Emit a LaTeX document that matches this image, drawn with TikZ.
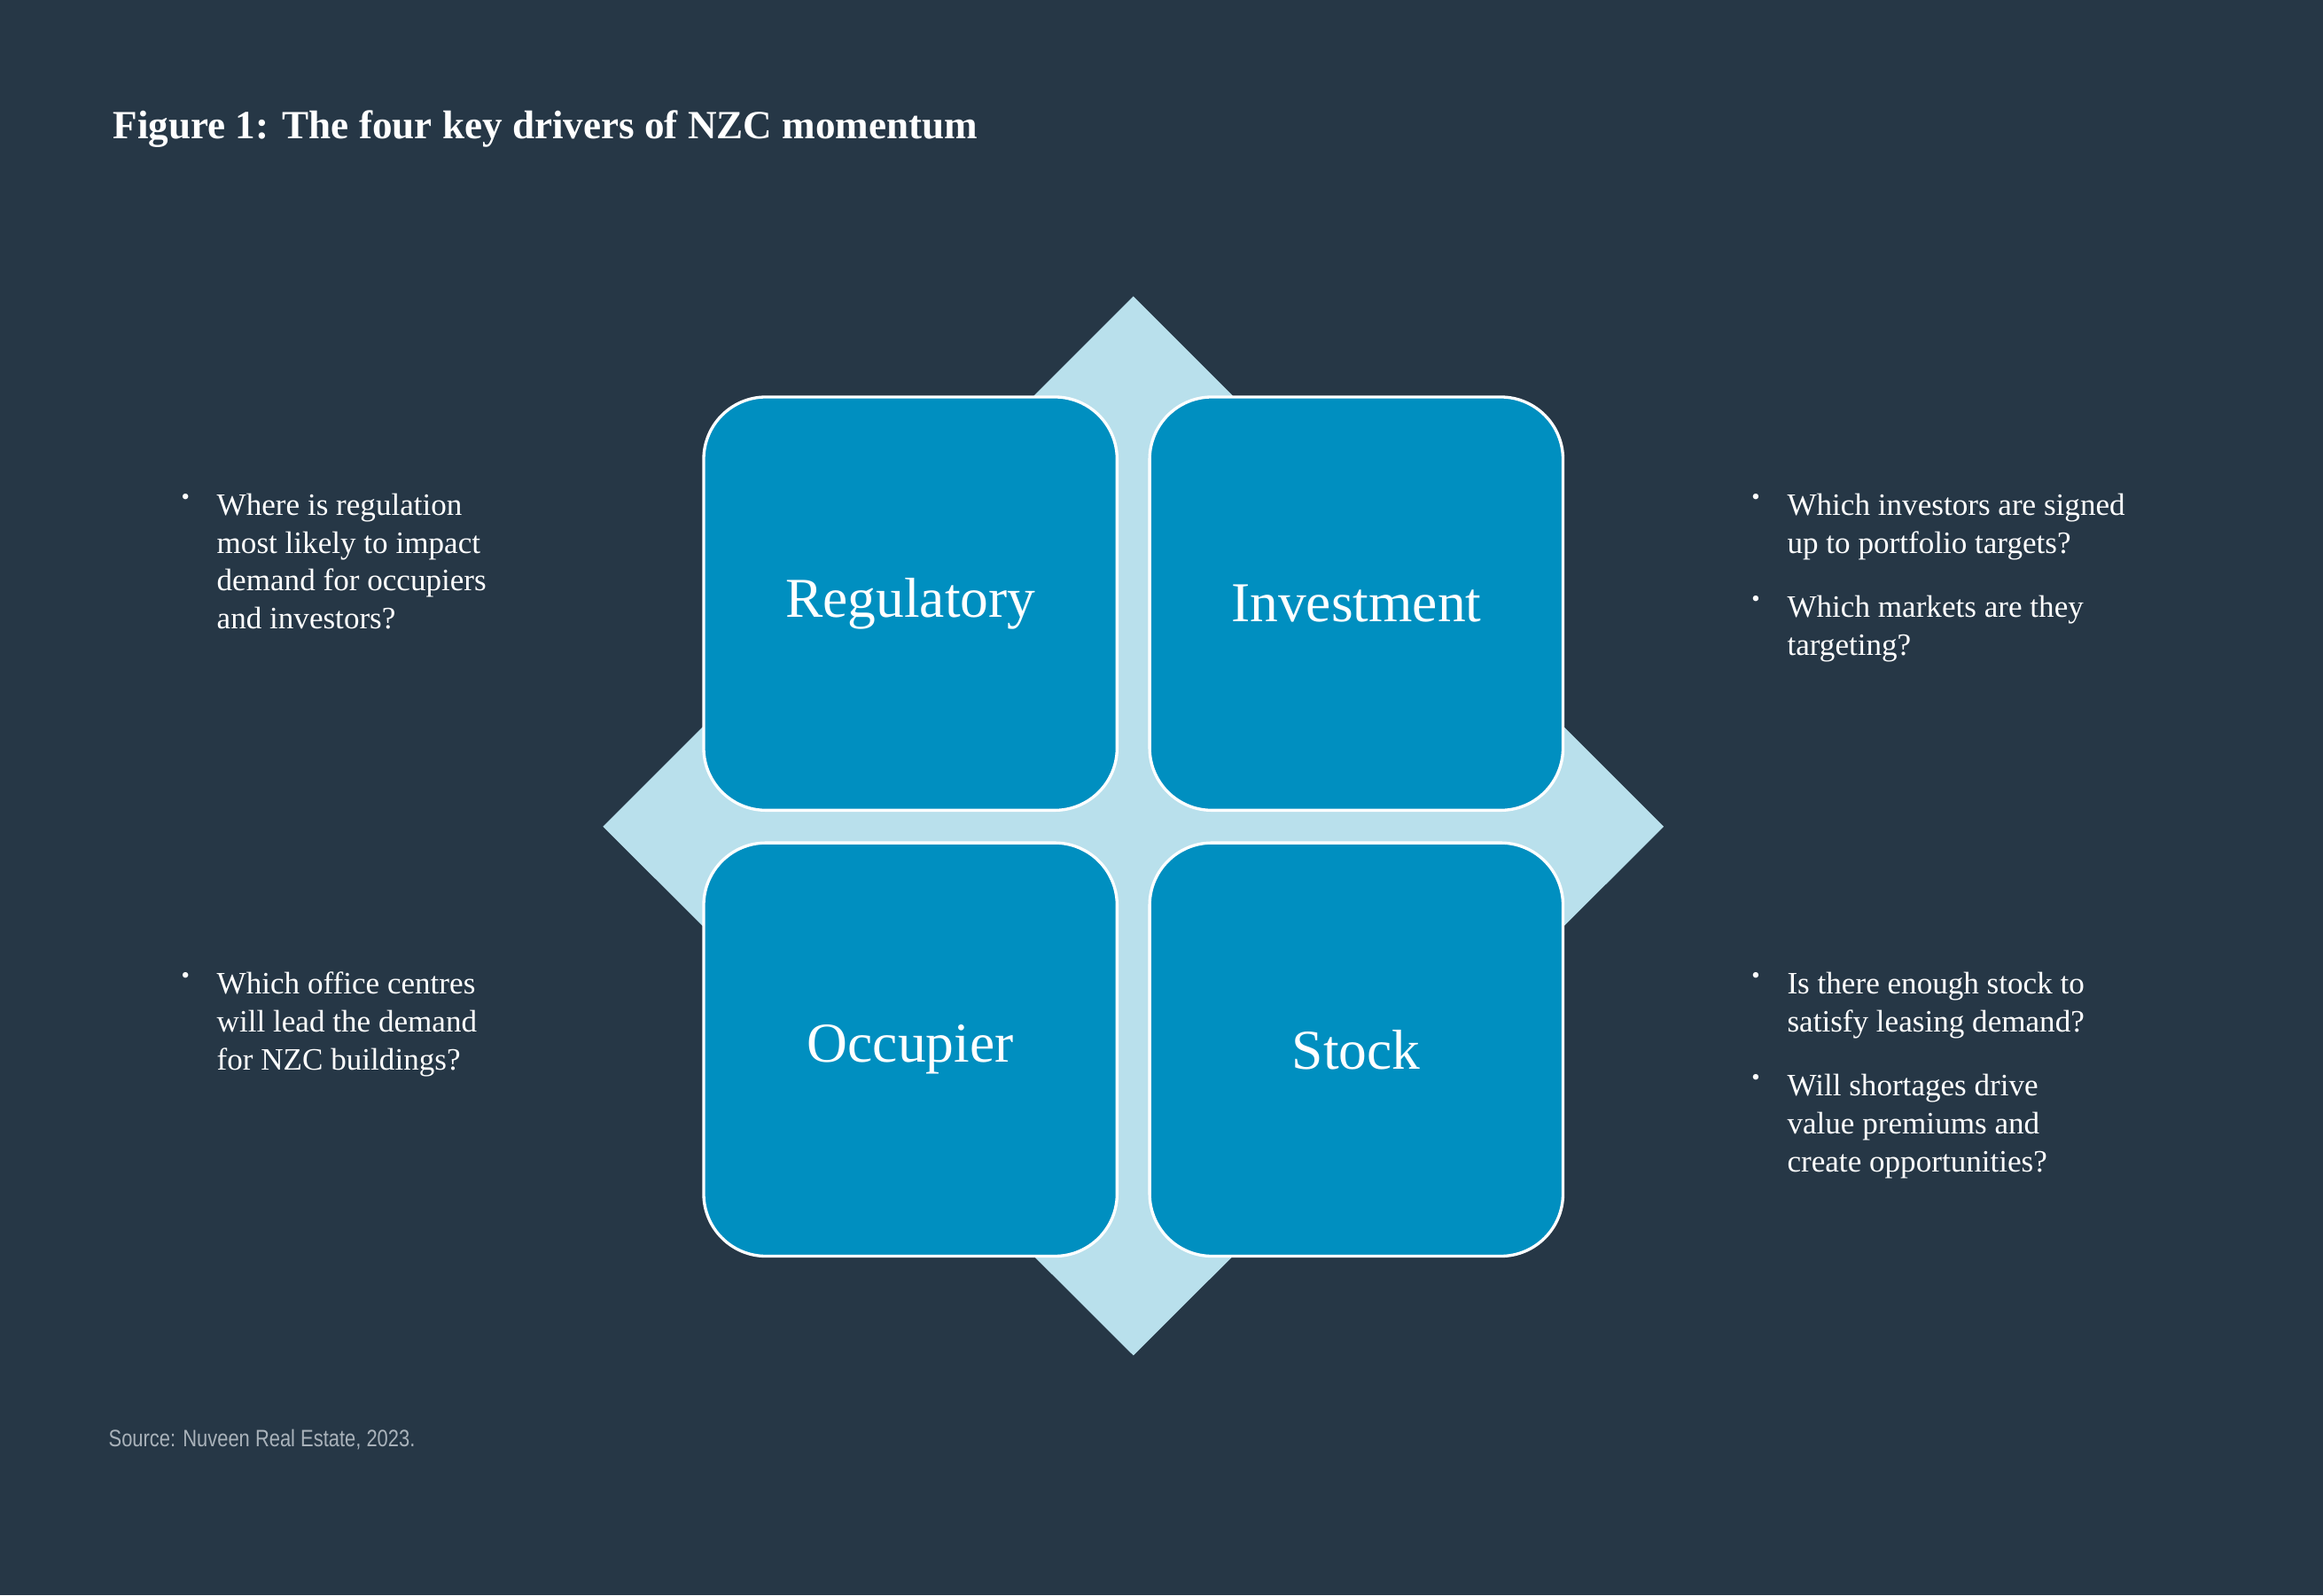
\documentclass[tikz,border=0pt]{standalone}
\usepackage{fontspec}
\setmainfont{Liberation Serif}
\newfontfamily\srcfont{Liberation Sans}[FakeStretch=0.82]
\usetikzlibrary{positioning}
\definecolor{bgnavy}{HTML}{263746}
\definecolor{diamblue}{HTML}{B9E0EC}
\definecolor{boxblue}{HTML}{008FC0}
\definecolor{srcgray}{HTML}{A9B2BA}
\tikzset{every picture/.style={line width=0.75pt}}

\begin{document}
\begin{tikzpicture}[x=1pt,y=1pt,yscale=-1,xscale=1,
  driver/.style={draw=white,line width=2pt,fill=boxblue,rounded corners=42pt,minimum width=279pt,minimum height=279pt,inner sep=0pt,text=white,font=\fontsize{38}{44}\selectfont},
  bullet/.style={anchor=north west,inner sep=0pt,text=white,align=left,font=\fontsize{21}{25.5}\selectfont},
  dot/.style={anchor=north west,inner sep=0pt,text=white,font=\fontsize{16}{25.5}\selectfont}]
\fill[bgnavy] (0,0) rectangle (1568,1077);

%Title
\node[anchor=west,inner sep=0pt,text=white,font=\fontsize{27}{30}\selectfont\bfseries] (title) at (76,87) {Figure 1: The four key drivers of NZC momentum};

%Diamond
\fill[diamblue] (765,200) -- (1123,558) -- (765,915) -- (407,558) -- cycle;

%Boxes
\node[driver] (regulatory) at (614.5,407.5) {Regulatory};
\node[driver] (investment) at (915.5,407.5) {Investment};
\node[driver] (occupier) at (614.5,708.5) {Occupier};
\node[driver] (stock) at (915.5,708.5) {Stock};

%Left texts
\node[dot] (d1) at (122,333) {\textbullet};
\node[bullet] (t1) at (146,333) {Where is regulation\\most likely to impact\\demand for occupiers\\and investors?};
\node[dot] (d2) at (122,656) {\textbullet};
\node[bullet] (t2) at (146,656) {Which office centres\\will lead the demand\\for NZC buildings?};

%Right texts
\node[dot] (d3) at (1182,333) {\textbullet};
\node[bullet] (t3) at (1206,333) {Which investors are signed\\up to portfolio targets?};
\node[dot] (d4) at (1182,402) {\textbullet};
\node[bullet] (t4) at (1206,402) {Which markets are they\\targeting?};
\node[dot] (d5) at (1182,656) {\textbullet};
\node[bullet] (t5) at (1206,656) {Is there enough stock to\\satisfy leasing demand?};
\node[dot] (d6) at (1182,725) {\textbullet};
\node[bullet] (t6) at (1206,725) {Will shortages drive\\value premiums and\\create opportunities?};

%Source
\node[anchor=west,inner sep=0pt,text=srcgray,font=\srcfont\fontsize{16}{18}\selectfont] (source) at (73,972) {Source: Nuveen Real Estate, 2023.};
\end{tikzpicture}
\end{document}
